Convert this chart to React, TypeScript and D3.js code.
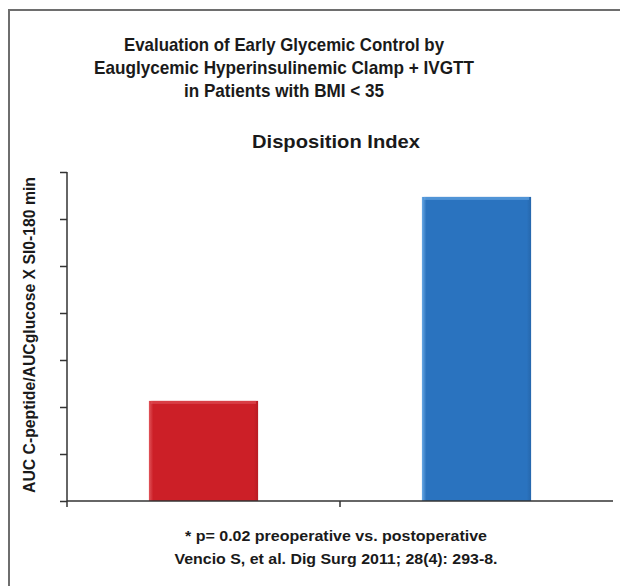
import { useEffect, useRef } from "react";
import * as d3 from "d3";

const categories = ["Preoperative", "Postoperative"];
const values = [2.13, 6.47];
const barColors = ["#cc1f27", "#2a73bf"];
const barEdge = ["#e0545a", "#6aaae6"];
const yTicks = [0, 1, 2, 3, 4, 5, 6, 7];

const titleLines = [
  "Evaluation of Early Glycemic Control by",
  "Eauglycemic Hyperinsulinemic Clamp + IVGTT",
  "in Patients with BMI < 35",
];
const titleWidths = [320, 380, 200];
const subtitle = "Disposition Index";
const yLabel = "AUC C-peptide/AUCglucose X SI0-180 min";
const footLines = [
  "* p= 0.02 preoperative vs. postoperative",
  "Vencio S, et al. Dig Surg 2011; 28(4): 293-8.",
];
const footWidths = [302, 323];

const width = 620;
const height = 586;
const font = "'Liberation Sans', Arial, Helvetica, sans-serif";

export default function App() {
  const svgRef = useRef<SVGSVGElement>(null);

  useEffect(() => {
    if (!svgRef.current) return;
    const svg = d3.select(svgRef.current);
    svg.selectAll("*").remove();

    const left = 67;
    const right = 613;
    const top = 172;
    const bottom = 501;

    // page frame (only top / left edges fall inside the picture)
    svg.append("path")
      .attr("d", `M9,${height}V10H${width}`)
      .attr("fill", "none")
      .attr("stroke", "#6e6e6e")
      .attr("stroke-width", 2);

    const x = d3.scaleBand()
      .domain(categories)
      .range([left, right])
      .paddingInner(0.6)
      .paddingOuter(0.3);

    const y = d3.scaleLinear().domain([0, 7]).range([bottom, top]);

    const defs = svg.append("defs");
    categories.forEach((c, i) => {
      const g = defs.append("linearGradient")
        .attr("id", `bar${i}`)
        .attr("x1", 0).attr("x2", 1).attr("y1", 0).attr("y2", 0);
      g.append("stop").attr("offset", "0%").attr("stop-color", barEdge[i]);
      g.append("stop").attr("offset", "4%").attr("stop-color", barColors[i]);
      g.append("stop").attr("offset", "96%").attr("stop-color", barColors[i]);
      g.append("stop").attr("offset", "100%").attr("stop-color", d3.color(barColors[i])!.darker(0.3).toString());
    });

    // bars
    const bars = svg.append("g");
    bars.selectAll("rect.bar")
      .data(values)
      .enter()
      .append("rect")
      .attr("class", "bar")
      .attr("x", (_, i) => x(categories[i])!)
      .attr("y", (d) => y(d))
      .attr("width", x.bandwidth())
      .attr("height", (d) => bottom - y(d))
      .attr("fill", (_, i) => `url(#bar${i})`);

    // top bevel highlight
    bars.selectAll("rect.hl")
      .data(values)
      .enter()
      .append("rect")
      .attr("class", "hl")
      .attr("x", (_, i) => x(categories[i])! + 2)
      .attr("y", (d) => y(d))
      .attr("width", x.bandwidth() - 4)
      .attr("height", 3)
      .attr("fill", (_, i) => barEdge[i])
      .attr("opacity", 0.6);

    // y axis
    const yAxis = svg.append("g")
      .attr("transform", `translate(${left},0)`)
      .call(d3.axisLeft(y).tickValues(yTicks).tickSize(7).tickFormat(() => ""));
    yAxis.select(".domain").attr("stroke", "#333").attr("stroke-width", 1.5).attr("d", `M0,${top}V${bottom}`);
    yAxis.selectAll(".tick line").attr("stroke", "#333").attr("stroke-width", 1.5);

    // x axis with ticks at category boundaries
    const boundaries = [left, (x(categories[0])! + x.bandwidth() + x(categories[1])!) / 2];
    svg.append("line")
      .attr("x1", left).attr("x2", right)
      .attr("y1", bottom).attr("y2", bottom)
      .attr("stroke", "#333").attr("stroke-width", 1.5);
    svg.selectAll("line.xt")
      .data(boundaries)
      .enter()
      .append("line")
      .attr("class", "xt")
      .attr("x1", (d) => d).attr("x2", (d) => d)
      .attr("y1", bottom).attr("y2", bottom + 6)
      .attr("stroke", "#333").attr("stroke-width", 1.5);

    // titles
    const titleY = [51, 74, 97];
    svg.selectAll("text.title")
      .data(titleLines)
      .enter()
      .append("text")
      .attr("class", "title")
      .attr("x", 284)
      .attr("y", (_, i) => titleY[i])
      .attr("text-anchor", "middle")
      .attr("font-family", font)
      .attr("font-weight", "bold")
      .attr("font-size", 19)
      .attr("fill", "#1a1a1a")
      .attr("textLength", (_, i) => titleWidths[i])
      .attr("lengthAdjust", "spacingAndGlyphs")
      .text((d) => d);

    svg.append("text")
      .attr("x", 336)
      .attr("y", 148)
      .attr("text-anchor", "middle")
      .attr("font-family", font)
      .attr("font-weight", "bold")
      .attr("font-size", 19)
      .attr("fill", "#1a1a1a")
      .attr("textLength", 168)
      .attr("lengthAdjust", "spacingAndGlyphs")
      .text(subtitle);

    svg.append("text")
      .attr("transform", `translate(35,335) rotate(-90)`)
      .attr("text-anchor", "middle")
      .attr("font-family", font)
      .attr("font-weight", "bold")
      .attr("font-size", 16)
      .attr("fill", "#1a1a1a")
      .attr("textLength", 316)
      .attr("lengthAdjust", "spacingAndGlyphs")
      .text(yLabel);

    const footY = [541, 564];
    svg.selectAll("text.foot")
      .data(footLines)
      .enter()
      .append("text")
      .attr("class", "foot")
      .attr("x", 336)
      .attr("y", (_, i) => footY[i])
      .attr("text-anchor", "middle")
      .attr("font-family", font)
      .attr("font-weight", "bold")
      .attr("font-size", 15)
      .attr("fill", "#1a1a1a")
      .attr("textLength", (_, i) => footWidths[i])
      .attr("lengthAdjust", "spacingAndGlyphs")
      .text((d) => d);
  }, []);

  return (
    <svg
      ref={svgRef}
      width={width}
      height={height}
      style={{ position: "absolute", left: 0, top: 0, background: "#fff" }}
    />
  );
}
